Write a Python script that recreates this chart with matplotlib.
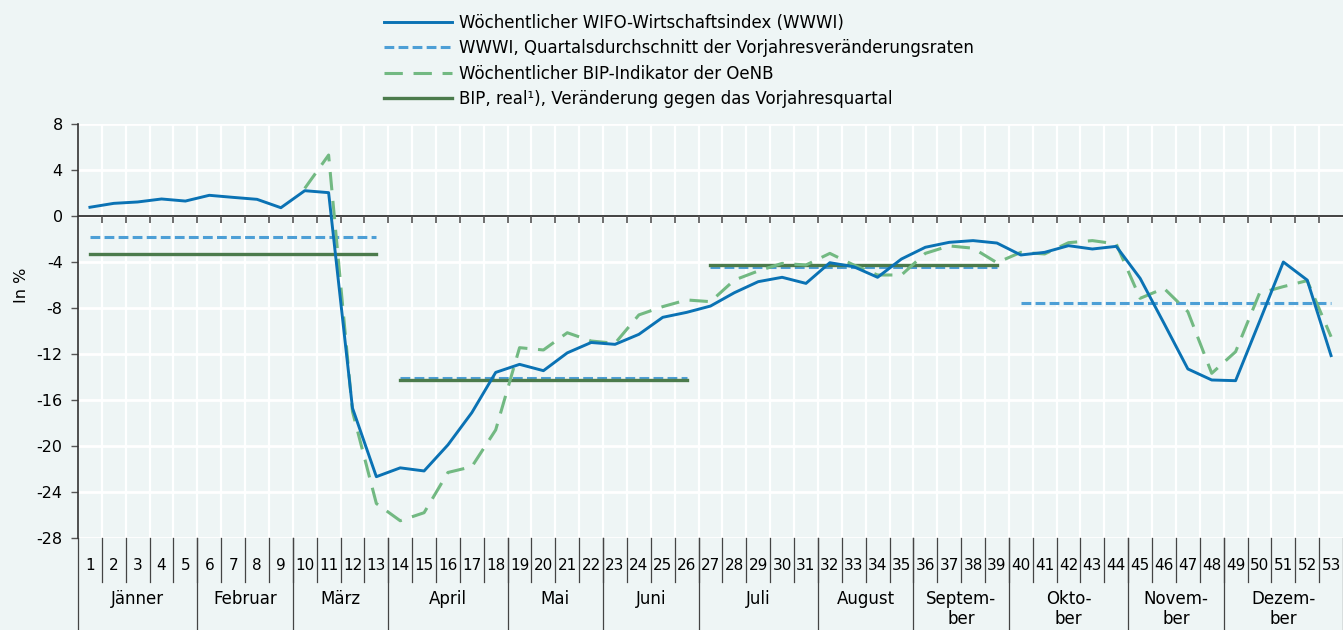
import numpy as np
import matplotlib.pyplot as plt
import matplotlib.transforms as mtransforms
from matplotlib.lines import Line2D

weeks = np.arange(1, 54)

# Wöchentlicher WIFO-Wirtschaftsindex (WWWI)
wwwi = [0.76, 1.1, 1.22, 1.48, 1.3, 1.8, 1.62, 1.45, 0.72, 2.2,
        2.03, -16.7, -22.67, -21.9, -22.17, -19.9, -17.1, -13.6, -12.9, -13.45,
        -11.9, -11.0, -11.16, -10.29, -8.81, -8.38, -7.83, -6.67, -5.71, -5.33,
        -5.86, -4.06, -4.41, -5.33, -3.74, -2.72, -2.29, -2.14, -2.35, -3.39,
        -3.16, -2.58, -2.87, -2.64, -5.42, -9.33, -13.3, -14.26, -14.32, -9.19,
        -4.0, -5.57, -12.14]

# Wöchentlicher BIP-Indikator der OeNB (ab Woche 10)
oenb = [np.nan] * 9 + [
    2.4, 5.3, -17.0, -25.0, -26.5, -25.8, -22.3, -21.8, -18.6, -11.45,
    -11.65, -10.15, -10.87, -11.07, -8.6, -7.88, -7.3, -7.45, -5.57, -4.78,
    -4.12, -4.26, -3.25, -4.26, -5.13, -5.13, -3.25, -2.6, -2.8, -4.06,
    -3.16, -3.3, -2.32, -2.14, -2.43, -7.16, -6.29, -8.32, -13.68, -11.8,
    -6.72, -6.14, -5.62, -10.5]

# Quartale
q_start = [1, 14, 27, 40]
q_end = [13, 26, 39, 53]
wwwi_q = [-1.86, -14.06, -4.46, -7.54]
bip_q = [-3.3, -14.29, -4.26]

months = ['Jänner', 'Februar', 'März', 'April', 'Mai', 'Juni', 'Juli',
          'August', 'Septem-\nber', 'Okto-\nber', 'Novem-\nber', 'Dezem-\nber']
month_first = [1, 6, 10, 14, 19, 23, 27, 32, 36, 40, 45, 49]
month_last = [5, 9, 13, 18, 22, 26, 31, 35, 39, 44, 48, 53]

labels = ['Wöchentlicher WIFO-Wirtschaftsindex (WWWI)',
          'WWWI, Quartalsdurchschnitt der Vorjahresveränderungsraten',
          'Wöchentlicher BIP-Indikator der OeNB',
          'BIP, real¹), Veränderung gegen das Vorjahresquartal']

bg = '#eef5f5'
c_blue = '#0a72b4'
c_lblue = '#4d9fd6'
c_green = '#72b982'
c_dgreen = '#4b7b4c'

plt.rcParams['font.family'] = ['DejaVu Sans']

fig = plt.figure(figsize=(13.43, 6.3), dpi=100, facecolor=bg)
ax = fig.add_axes([78 / 1343, 1 - 538 / 630, 1 - 78 / 1343, 414 / 630])
ax.set_facecolor(bg)

ax.set_xlim(0.5, 53.5)
ax.set_ylim(-28, 8)

# grid
for b in np.arange(1.5, 53.5, 1):
    ax.axvline(b, color='white', lw=1.6, zorder=0)
for y in range(-28, 9, 4):
    ax.axhline(y, color='white', lw=2, zorder=0)

# zero line with ticks
ax.axhline(0, color='#333333', lw=1.3, zorder=1)
ax.vlines(np.arange(1.5, 53.5, 1), 0, -0.6, color='#555555', lw=1.2, zorder=1)

# quarterly lines
for i in range(4):
    ax.plot([q_start[i], q_end[i]], [wwwi_q[i], wwwi_q[i]], color=c_lblue,
            lw=2.2, dashes=(3.2, 1.4), zorder=2)
for i in range(3):
    ax.plot([q_start[i], q_end[i]], [bip_q[i], bip_q[i]], color=c_dgreen,
            lw=2.4, zorder=2)

ax.plot(weeks, oenb, color=c_green, lw=2.2, dashes=(6, 3.5), zorder=3)
ax.plot(weeks, wwwi, color=c_blue, lw=2.1, zorder=4)

# axes
for s in ['top', 'right', 'bottom']:
    ax.spines[s].set_visible(False)
ax.spines['left'].set_color('#333333')
ax.spines['left'].set_linewidth(1.2)
ax.set_yticks(range(-28, 9, 4))
ax.set_yticklabels([str(v) for v in range(-28, 9, 4)])
ax.tick_params(axis='y', length=5, width=1, color='#555555', labelsize=11.5,
               pad=6)
ax.set_xticks([])

fig.text(22 / 1343, 1 - 285 / 630, 'In %', rotation=90, fontsize=11.5,
         va='center', ha='center')

# category axis below
trans = mtransforms.blended_transform_factory(ax.transData, ax.transAxes)
y_week = -(566 - 538) / 414
y_sep = -(582 - 538) / 414
y_month = -(590 - 538) / 414
y_bottom = -(630 - 538) / 414
for w in weeks:
    ax.text(w, y_week, str(w), transform=trans, ha='center', va='center',
            fontsize=11)
for b in np.arange(1.5, 53.5, 1):
    ax.plot([b, b], [0, y_sep], transform=trans, color='#444444', lw=0.9,
            clip_on=False)
bounds = [0.5] + [m + 0.5 for m in month_last]
for b in bounds:
    ax.plot([b, b], [0, y_bottom], transform=trans, color='#444444', lw=0.9,
            clip_on=False)
for m, f, l in zip(months, month_first, month_last):
    ax.text((f + l) / 2, y_month, m, transform=trans, ha='center', va='top',
            fontsize=12, linespacing=1.15)

# legend
handles = [Line2D([], [], color=c_blue, lw=2.1),
           Line2D([], [], color=c_lblue, lw=2.2, dashes=(3.2, 1.4)),
           Line2D([], [], color=c_green, lw=2.2, dashes=(6, 3.5)),
           Line2D([], [], color=c_dgreen, lw=2.4)]
fig.legend(handles, labels, loc='upper left',
           bbox_to_anchor=(372 / 1343, 1 - 2 / 630), frameon=False,
           fontsize=12, handlelength=4.1, handletextpad=0.4,
           labelspacing=0.45, borderpad=0.2)

plt.savefig('out.png', dpi=100, facecolor=bg)
